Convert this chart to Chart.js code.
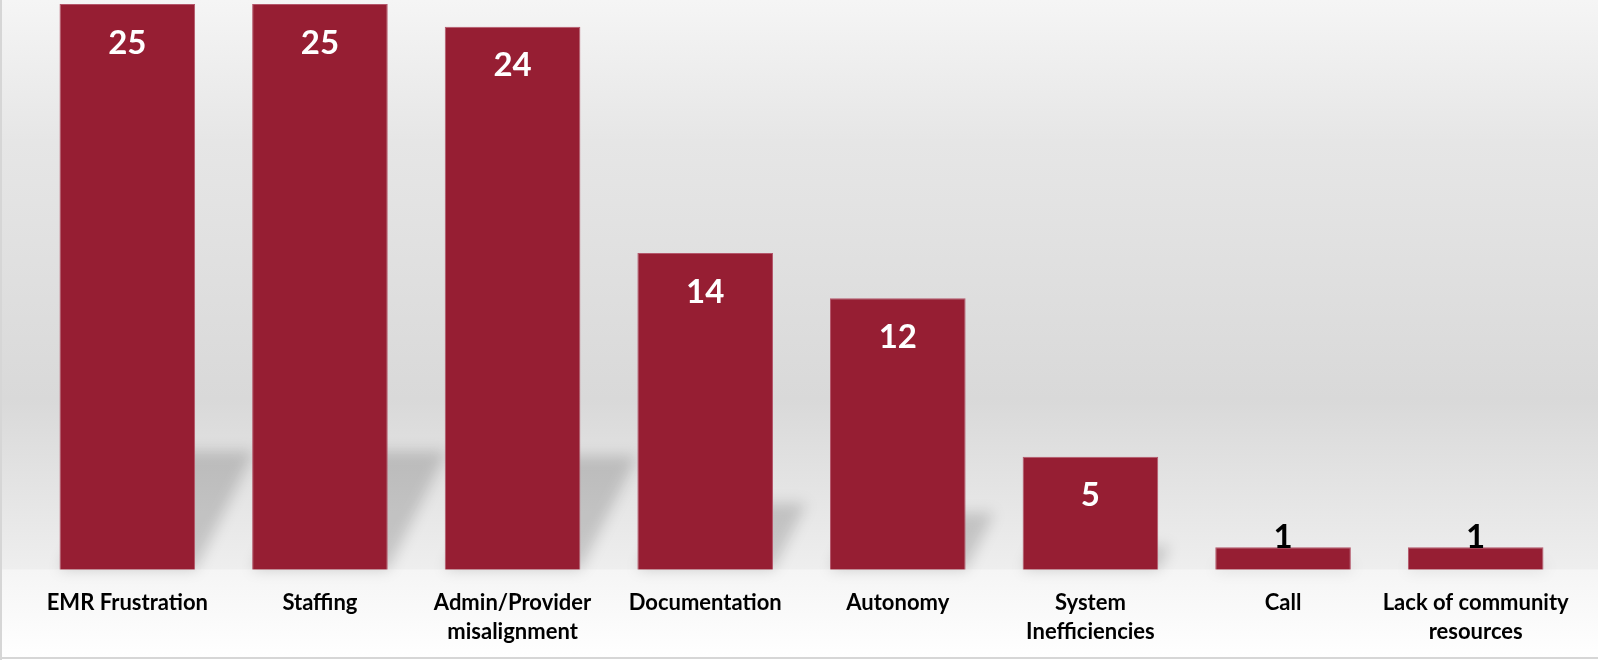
<!DOCTYPE html>
<html>
<head>
<meta charset="utf-8">
<script src="https://cdn.jsdelivr.net/npm/chart.js@4"></script>
<style>
  html, body { margin: 0; padding: 0; background: #ffffff; }
  #wrap { position: relative; width: 1598px; height: 660px; }
</style>
</head>
<body>
<div id="wrap"><canvas id="burnoutChart"></canvas></div>
<script>
// categories and counts
const categories = [
  "EMR Frustration",
  "Staffing",
  ["Admin/Provider", "misalignment"],
  "Documentation",
  "Autonomy",
  ["System", "Inefficiencies"],
  "Call",
  ["Lack of community", "resources"]
];
const counts = [25, 25, 24, 14, 12, 5, 1, 1];

const barColor = "#961e33";

// background: grey gradient behind the plot, lighter floor below the baseline
const backgroundPlugin = {
  id: "bgGradient",
  beforeDraw(chart) {
    const c = chart.ctx;
    const w = chart.width, h = chart.height;
    const base = chart.chartArea.bottom;
    c.save();
    let g = c.createLinearGradient(0, 0, 0, base);
    g.addColorStop(0, "#f5f5f5");
    g.addColorStop(0.25, "#e6e6e6");
    g.addColorStop(0.7, "#d9d9d9");
    g.addColorStop(1, "#eeeeee");
    c.fillStyle = g;
    c.fillRect(0, 0, w, base);
    g = c.createLinearGradient(0, base, 0, h);
    g.addColorStop(0, "#f5f5f5");
    g.addColorStop(1, "#ffffff");
    c.fillStyle = g;
    c.fillRect(0, base, w, h - base);
    // frame lines
    c.fillStyle = "#d6d6d6";
    c.fillRect(0, 0, 2, h);
    c.fillRect(0, h - 3, w, 2);
    c.restore();
  }
};

// soft slanted shadow behind each bar
const shadowPlugin = {
  id: "barShadows",
  beforeDatasetsDraw(chart) {
    const c = chart.ctx;
    const meta = chart.getDatasetMeta(0);
    c.save();
    c.filter = "blur(7px)";
    c.fillStyle = "rgba(0,0,0,0.16)";
    meta.data.forEach(bar => {
      const half = bar.width / 2;
      const left = bar.x - half, right = bar.x + half;
      const sh = (bar.base - bar.y) * 0.21;
      const dx = sh * 0.5;
      c.beginPath();
      c.moveTo(left, bar.base);
      c.lineTo(right, bar.base);
      c.lineTo(right + dx, bar.base - sh);
      c.lineTo(left + dx, bar.base - sh);
      c.closePath();
      c.fill();
    });
    c.restore();
  }
};

// value labels: white inside tall bars, black sitting on the short ones
const valueLabelPlugin = {
  id: "valueLabels",
  afterDatasetsDraw(chart) {
    const c = chart.ctx;
    const meta = chart.getDatasetMeta(0);
    c.save();
    c.font = "bold 33px Lato, 'Open Sans', sans-serif";
    c.textAlign = "center";
    meta.data.forEach((bar, i) => {
      const v = counts[i];
      const hgt = bar.base - bar.y;
      if (hgt > 60) {
        c.fillStyle = "#ffffff";
        c.textBaseline = "middle";
        c.fillText(String(v), bar.x, bar.y + 39);
      } else {
        c.fillStyle = "#000000";
        c.textBaseline = "alphabetic";
        c.fillText(String(v), bar.x, bar.y + 1);
      }
    });
    c.restore();
  }
};

const ctx = document.getElementById("burnoutChart").getContext("2d");
const burnoutChart = new Chart(ctx, {
  type: "bar",
  data: {
    labels: categories,
    datasets: [{
      data: counts,
      backgroundColor: barColor,
      borderColor: "#b4566a",
      borderWidth: 1,
      categoryPercentage: 1,
      barPercentage: 0.704
    }]
  },
  options: {
    responsive: true,
    maintainAspectRatio: false,
    animation: false,
    layout: { padding: { left: 31, right: 26, top: 4, bottom: 3 } },
    plugins: {
      legend: { display: false },
      tooltip: { enabled: false }
    },
    scales: {
      x: {
        grid: { display: false },
        border: { display: false },
        ticks: {
          color: "#000000",
          font: { family: "Lato, 'Open Sans', sans-serif", size: 22, weight: "bold", lineHeight: 1.3 },
          padding: 11,
          maxRotation: 0,
          autoSkip: false
        }
      },
      y: {
        display: false,
        min: 0,
        max: 25
      }
    }
  },
  plugins: [backgroundPlugin, shadowPlugin, valueLabelPlugin]
});
</script>
</body>
</html>
